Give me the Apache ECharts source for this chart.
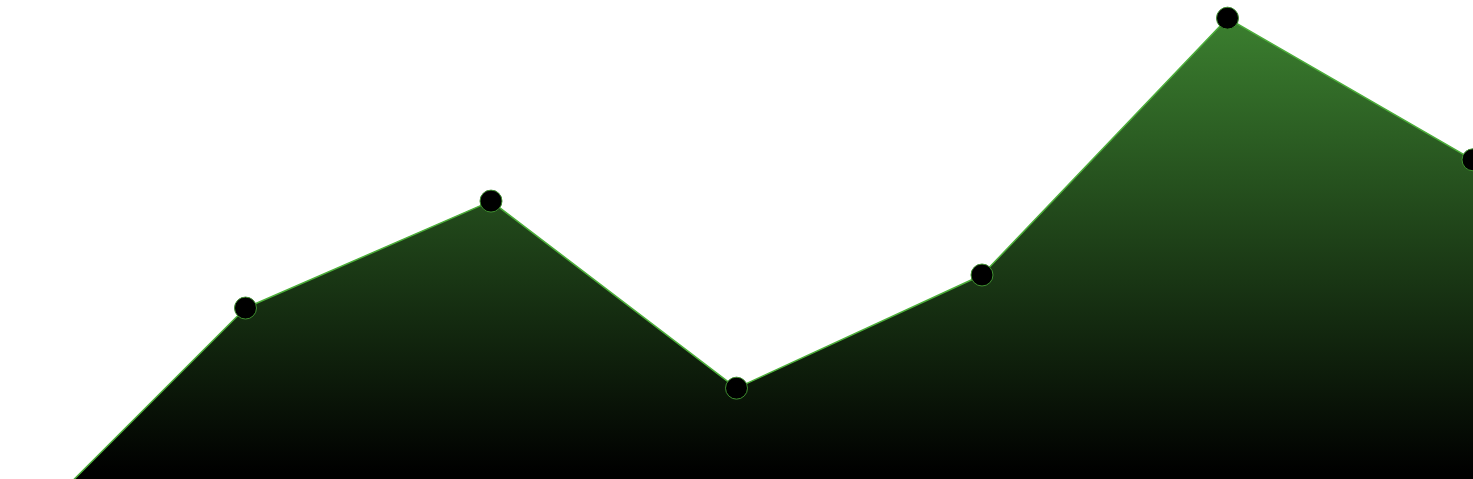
<!DOCTYPE html>
<html>
<head>
<meta charset="utf-8">
<script src="https://cdn.jsdelivr.net/npm/echarts@6/dist/echarts.min.js"></script>
<style>
  html, body { margin: 0; padding: 0; background: #fff; }
  #chart { width: 1473px; height: 479px; }
</style>
</head>
<body>
<div id="chart"></div>
<script>
const categories = ['A', 'B', 'C', 'D', 'E', 'F', 'G'];
const values = [-34, 25.4, 51.3, 6, 33.4, 95.6, 61.3];

const chart = echarts.init(document.getElementById('chart'));
chart.setOption({
  animation: false,
  grid: { left: 0, right: 0, top: 0, bottom: 0 },
  xAxis: { type: 'category', data: categories, boundaryGap: false, show: false },
  yAxis: { type: 'value', min: -16, max: 100, show: false },
  series: [{
    type: 'line',
    data: values,
    symbol: 'circle',
    symbolSize: 22,
    itemStyle: { color: '#000', borderColor: '#3f8f30', borderWidth: 1 },
    lineStyle: { color: '#4caf3a', width: 1.5 },
    areaStyle: {
      origin: 'start',
      opacity: 1,
      color: new echarts.graphic.LinearGradient(0, 0, 0, 1, [
        { offset: 0, color: '#3b7f2f' },
        { offset: 0.85, color: '#000' },
        { offset: 1, color: '#000' }
      ])
    }
  }]
});
</script>
</body>
</html>
